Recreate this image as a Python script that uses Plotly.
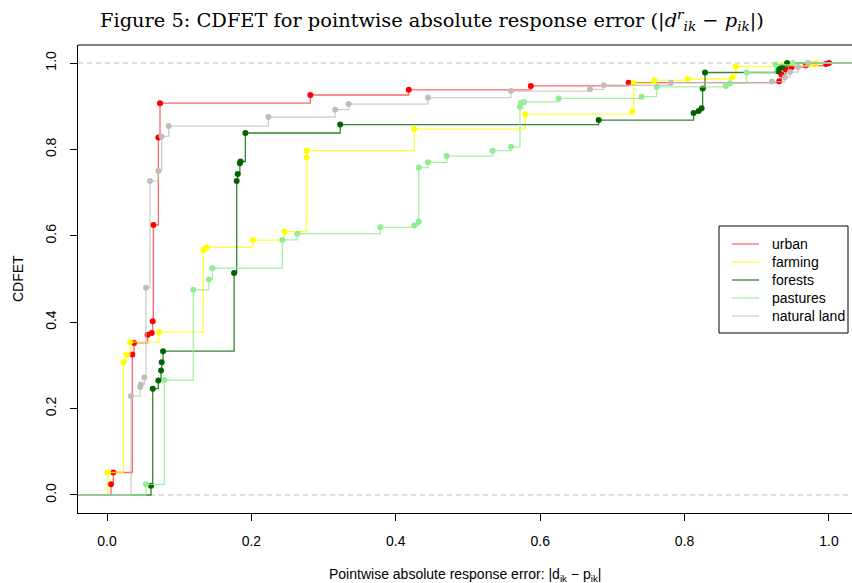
import plotly.graph_objects as go

# ---------------- data ----------------
series_names = ["urban", "farming", "forests", "pastures", "natural land"]

urban_x = [0.0055, 0.0087, 0.035, 0.0374, 0.0563, 0.0619, 0.0633, 0.0642, 0.0711, 0.0734,
           0.2816, 0.418, 0.587, 0.7225, 0.931, 0.934, 0.940, 0.948, 0.968, 0.996, 1.0]
urban_y = [0.025, 0.052, 0.325, 0.352, 0.371, 0.375, 0.402, 0.625, 0.8275, 0.907,
           0.926, 0.938, 0.947, 0.9545, 0.958, 0.974, 0.985, 0.990, 0.994, 0.998, 1.0]

farming_x = [0.001, 0.0226, 0.0268, 0.0319, 0.072, 0.1334, 0.138, 0.2018, 0.2456, 0.2765,
             0.2766, 0.4256, 0.5794, 0.7276, 0.7295, 0.758, 0.804, 0.866, 0.871, 0.935,
             0.975, 0.982]
farming_y = [0.052, 0.307, 0.324, 0.354, 0.377, 0.568, 0.573, 0.590, 0.610, 0.781,
             0.797, 0.847, 0.8815, 0.8875, 0.953, 0.960, 0.963, 0.967, 0.992, 0.994,
             0.997, 1.0]

forests_x = [0.0609, 0.0633, 0.0711, 0.0748, 0.0757, 0.0776, 0.176, 0.1796, 0.181, 0.184,
             0.185, 0.1916, 0.323, 0.681, 0.8125, 0.8195, 0.8236, 0.825, 0.8283, 0.929,
             0.931, 0.935, 0.942]
forests_y = [0.0215, 0.246, 0.265, 0.288, 0.307, 0.333, 0.514, 0.727, 0.743, 0.768,
             0.772, 0.838, 0.8575, 0.868, 0.884, 0.889, 0.895, 0.941, 0.978, 0.981,
             0.986, 0.990, 1.0]

pastures_x = [0.054, 0.0794, 0.1195, 0.141, 0.146, 0.2428, 0.2636, 0.3786, 0.4256, 0.4317,
              0.4318, 0.4446, 0.4705, 0.534, 0.5596, 0.572, 0.5735, 0.5776, 0.6256, 0.7404,
              0.7613, 0.857, 0.863, 0.886, 0.926, 0.950]
pastures_y = [0.0247, 0.266, 0.475, 0.499, 0.525, 0.5905, 0.605, 0.6197, 0.624, 0.633,
              0.758, 0.770, 0.7845, 0.797, 0.806, 0.899, 0.908, 0.910, 0.918, 0.922,
              0.9446, 0.947, 0.953, 0.978, 0.996, 1.0]

natural_x = [0.0332, 0.046, 0.0468, 0.0517, 0.054, 0.0596, 0.071, 0.0757, 0.0854, 0.2235,
             0.316, 0.3347, 0.4446, 0.5596, 0.669, 0.688, 0.781, 0.921, 0.939, 0.946,
             0.957, 0.971]
natural_y = [0.229, 0.250, 0.256, 0.272, 0.480, 0.727, 0.750, 0.830, 0.854, 0.875,
             0.892, 0.905, 0.920, 0.935, 0.939, 0.9485, 0.9545, 0.957, 0.967, 0.979,
             0.991, 1.0]

x_ticks = [0.0, 0.2, 0.4, 0.6, 0.8, 1.0]
y_ticks = [0.0, 0.2, 0.4, 0.6, 0.8, 1.0]

# ---------------- style ----------------
point_colors = ["#FF0000", "#FFFF00", "#006400", "#90EE90", "#BEBEBE"]
line_colors = ["rgba(255,0,0,0.6)", "rgba(255,255,0,0.75)", "rgba(0,100,0,0.8)",
               "rgba(144,238,144,0.8)", "rgba(190,190,190,0.75)"]

W, H = 852, 583
ML, MR, MT, MB = 78, 0, 45, 70
PW, PH = W - ML - MR, H - MT - MB


def px(xp):
    return (xp - ML) / PW


def py(yp):
    return (H - MB - yp) / PH


X_RANGE = [-0.0402, 1.0319]
Y_RANGE = [-0.0417, 1.0417]

xs_all = [urban_x, farming_x, forests_x, pastures_x, natural_x]
ys_all = [urban_y, farming_y, forests_y, pastures_y, natural_y]

fig = go.Figure()

# 0 and 1 reference lines
for yv in (0.0, 1.0):
    fig.add_shape(type="line", xref="paper", x0=0, x1=1, yref="y", y0=yv, y1=yv,
                  line=dict(color="#BEBEBE", width=1, dash="5px,4px"), layer="below")

for name, xs, ys, pc, lc in zip(series_names, xs_all, ys_all, point_colors, line_colors):
    lx = [X_RANGE[0] - 0.1] + list(xs) + [X_RANGE[1] + 0.1]
    ly = [0.0] + list(ys) + [ys[-1]]
    fig.add_trace(go.Scatter(x=lx, y=ly, mode="lines", line=dict(color=lc, width=1.3, shape="hv"),
                             showlegend=False, hoverinfo="skip"))
    fig.add_trace(go.Scatter(x=xs, y=ys, mode="markers", marker=dict(color=pc, size=6),
                             showlegend=False, name=name))

# frame top line
fig.add_shape(type="line", xref="paper", x0=0, x1=1, yref="paper", y0=1, y1=1,
              line=dict(color="black", width=1))

FONT = "Liberation Sans, Arial, sans-serif"

annotations = [
    dict(text="Figure 5: CDFET for pointwise absolute response error "
              "(|<i>d</i><sup><i>r</i></sup><sub><i>ik</i></sub> − <i>p</i><sub><i>ik</i></sub>|)",
         xref="paper", yref="paper", x=px(432), y=py(20), xanchor="center", yanchor="middle",
         showarrow=False, font=dict(family="DejaVu Serif, serif", size=19.4)),
    dict(text="Pointwise absolute response error: |d<sub>ik</sub> − p<sub>ik</sub>|",
         xref="paper", yref="paper", x=0.5, y=py(575), xanchor="center", yanchor="middle",
         showarrow=False, font=dict(family=FONT, size=14)),
    dict(text="CDFET", textangle=-90, xref="paper", yref="paper", x=px(18), y=0.5,
         xanchor="center", yanchor="middle", showarrow=False, font=dict(family=FONT, size=14)),
]

# manual legend (R style box)
fig.add_shape(type="rect", xref="paper", yref="paper", x0=px(719), x1=px(848), y0=py(333), y1=py(226),
              line=dict(color="black", width=1), fillcolor="white", layer="above")
for i, (name, lc) in enumerate(zip(series_names, line_colors)):
    yy = 244 + 18 * i
    fig.add_shape(type="line", xref="paper", yref="paper", x0=px(732), x1=px(759), y0=py(yy), y1=py(yy),
                  line=dict(color=lc, width=1.3), layer="above")
    annotations.append(dict(text=name, xref="paper", yref="paper", x=px(770), y=py(yy),
                            xanchor="left", yanchor="middle", showarrow=False,
                            font=dict(family=FONT, size=14)))

fig.update_layout(
    width=W, height=H,
    margin=dict(l=ML, r=MR, t=MT, b=MB),
    paper_bgcolor="white", plot_bgcolor="white",
    font=dict(family=FONT, size=14, color="black"),
    showlegend=False,
    xaxis=dict(range=X_RANGE, tickvals=x_ticks, ticktext=[f"{v:.1f}" for v in x_ticks],
               showgrid=False, zeroline=False, showline=True, linecolor="black", linewidth=1,
               ticks="outside", ticklen=7, tickcolor="black", ticklabelstandoff=8,
               tickfont=dict(family=FONT, size=14)),
    yaxis=dict(range=Y_RANGE, tickvals=y_ticks, ticktext=[f"{v:.1f}" for v in y_ticks],
               showgrid=False, zeroline=False, showline=True, linecolor="black", linewidth=1,
               ticks="outside", ticklen=7, tickcolor="black", tickangle=-90,
               ticklabelstandoff=8, tickfont=dict(family=FONT, size=14)),
    annotations=annotations,
)

fig.write_html("out.html")
